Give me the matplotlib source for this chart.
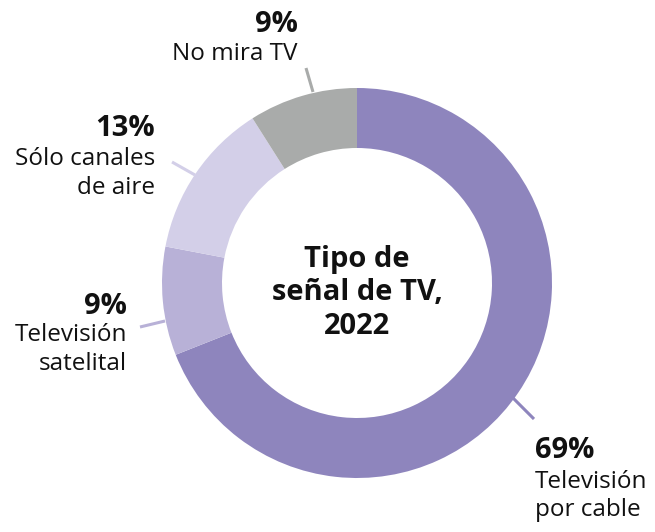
import matplotlib
matplotlib.use("Agg")
import matplotlib.pyplot as plt

categories = ["Televisión\npor cable", "Televisión\nsatelital", "Sólo canales\nde aire", "No mira TV"]
values = [69, 9, 13, 9]
pct_labels = ["69%", "9%", "13%", "9%"]
colors = ["#8e85bd", "#b8b1d7", "#d3cfe8", "#a9abaa"]
title = "Tipo de\nseñal de TV,\n2022"

W, H = 655, 532
fig = plt.figure(figsize=(W / 100, H / 100), dpi=100)
ax = fig.add_axes([0, 0, 1, 1])

font = "Open Sans"
cx, cy = 357, H - 283
R = 195
ax.pie(values, colors=colors, startangle=90, counterclock=False,
       center=(cx, cy), radius=R, wedgeprops=dict(width=60, linewidth=0),
       frame=True)
ax.set_xlim(0, W)
ax.set_ylim(0, H)
ax.set_aspect("equal")
ax.axis("off")

def py(y):
    return H - y

# leader lines (pixel endpoints)
leaders = [((513, 398), (534, 419)),
           ((165, 321), (140, 327)),
           ((195, 175), (172, 162)),
           ((313, 92), (306, 68))]
for (p0, p1), c in zip(leaders, colors):
    ax.plot([p0[0], p1[0]], [py(p0[1]), py(p1[1])], color=c, lw=2.2,
            solid_capstyle="butt")

# labels: (x, pct center y, label top y, ha)
label_pos = [(535, 451, 470, "left"),
             (127, 306, 323, "right"),
             (155, 129, 147, "right"),
             (298, 24, 42, "right")]
for (x, yp, yl, ha), p, lab in zip(label_pos, pct_labels, categories):
    ax.text(x, py(yp), p, ha=ha, va="center", fontsize=21, fontweight="bold",
            family=font, color="#111111")
    ax.text(x, py(yl), lab, ha=ha, va="top", fontsize=17.5, family=font,
            color="#111111", linespacing=1.25)

ax.text(cx, cy - 10, title, ha="center", va="center", fontsize=21,
        fontweight="bold", family=font, color="#111111", linespacing=1.2)

fig.savefig("out.png", dpi=100)
